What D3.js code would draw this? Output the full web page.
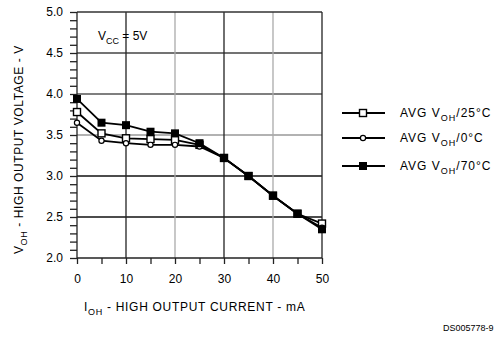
<!DOCTYPE html>
<html><head><meta charset="utf-8">
<script src="https://cdn.jsdelivr.net/npm/d3@7"></script>
<style>
body{margin:0;background:#fff;}
svg text{font-family:"Liberation Sans",Arial,sans-serif;fill:#000;}
</style></head>
<body>
<svg id="c" width="499" height="338"></svg>
<script>
const currents = [0,5,10,15,20,25,30,35,40,45,50];
const v25 = [3.78,3.52,3.46,3.45,3.44,3.38,3.22,3.00,2.76,2.54,2.42];
const v0  = [3.65,3.43,3.40,3.38,3.38,3.36,3.22,3.00,2.76,2.54,2.37];
const v70 = [3.94,3.65,3.62,3.54,3.52,3.40,3.22,3.00,2.76,2.54,2.35];
const xTicks = [0,10,20,30,40,50];
const yTicks = [2.0,2.5,3.0,3.5,4.0,4.5,5.0];
const seriesNames = ["AVG V|OH|/25°C","AVG V|OH|/0°C","AVG V|OH|/70°C"];

const svg = d3.select("#c");
const x = d3.scaleLinear().domain([0,50]).range([77,322]);
const y = d3.scaleLinear().domain([2,5]).range([258,12]);

// grid
const hColors = {2.5:"#111",3.0:"#111",3.5:"#999",4.0:"#555",4.5:"#444"};
[2.5,3.0,3.5,4.0,4.5].forEach(v=>{
  svg.append("line").attr("x1",x(0)).attr("x2",x(50)).attr("y1",y(v)).attr("y2",y(v))
    .attr("stroke",hColors[v]).attr("stroke-width",1.3);
});
const vColors = {10:"#222",20:"#aaa",30:"#222",40:"#aaa"};
[10,20,30,40].forEach(v=>{
  svg.append("line").attr("x1",x(v)).attr("x2",x(v)).attr("y1",y(2)).attr("y2",y(5))
    .attr("stroke",vColors[v]).attr("stroke-width",1.3);
});
// frame top/right
svg.append("line").attr("x1",x(0)).attr("x2",x(50)).attr("y1",y(5)).attr("y2",y(5)).attr("stroke","#333").attr("stroke-width",1.3);
svg.append("line").attr("x1",x(50)).attr("x2",x(50)).attr("y1",y(2)).attr("y2",y(5)).attr("stroke","#222").attr("stroke-width",1.3);

// y axis
const yAxis = d3.axisLeft(y).tickValues(d3.range(20,51).map(d=>d/10)).tickSize(7)
  .tickFormat(d=> yTicks.some(t=>Math.abs(t-d)<1e-6) ? d3.format(".1f")(d) : "");
const gy = svg.append("g").attr("transform",`translate(${x(0)},0)`).call(yAxis);
gy.selectAll("path,line").attr("stroke","#222").attr("stroke-width",1.3);
gy.select(".domain").attr("d",`M0,${y(2)}V${y(5)}`);
gy.selectAll("text").attr("font-size",12).attr("x",-14).attr("font-family","Liberation Sans, Arial, sans-serif");

// x axis
const xAxis = d3.axisBottom(x).tickValues(d3.range(0,51,5)).tickSize(6)
  .tickFormat(d=> xTicks.includes(d) ? d : "");
const gx = svg.append("g").attr("transform",`translate(0,${y(2)})`).call(xAxis);
gx.selectAll("path,line").attr("stroke","#222").attr("stroke-width",1.3);
gx.select(".domain").attr("d",`M${x(0)},0H${x(50)}`);
gx.selectAll("text").attr("font-size",12).attr("y",16).attr("font-family","Liberation Sans, Arial, sans-serif");

// lines
const line = d3.line().x((d,i)=>x(currents[i])).y(d=>y(d));
const data = [v25,v0,v70];
data.forEach(s=>{
  svg.append("path").attr("d",line(s)).attr("fill","none").attr("stroke","#000").attr("stroke-width",1.8);
});
function marker(g,type,cx,cy){
  if(type===0) g.append("rect").attr("x",cx-3.5).attr("y",cy-3.5).attr("width",7).attr("height",7).attr("fill","#fff").attr("stroke","#000").attr("stroke-width",1.4);
  else if(type===1) g.append("circle").attr("cx",cx).attr("cy",cy).attr("r",2.6).attr("fill","#fff").attr("stroke","#000").attr("stroke-width",1.2);
  else g.append("rect").attr("x",cx-4).attr("y",cy-4).attr("width",8).attr("height",8).attr("fill","#000");
}
data.forEach((s,k)=>{
  const g = svg.append("g");
  s.forEach((v,i)=>marker(g,k,x(currents[i]),y(v)));
});

// legend
const legY = [113,138,166];
seriesNames.forEach((n,k)=>{
  svg.append("line").attr("x1",342).attr("x2",385).attr("y1",legY[k]).attr("y2",legY[k]).attr("stroke","#000").attr("stroke-width",1.8);
  marker(svg,k,363,legY[k]);
  const parts = n.split("|");
  const t = svg.append("text").attr("x",400).attr("y",legY[k]+4).attr("font-size",12).attr("letter-spacing",1);
  t.append("tspan").text(parts[0]);
  t.append("tspan").attr("font-size",9).attr("dy",4).text(parts[1]);
  t.append("tspan").attr("dy",-4).text(parts[2]);
});

// Vcc label
const vt = svg.append("text").attr("x",98).attr("y",40).attr("font-size",12);
vt.append("tspan").text("V");
vt.append("tspan").attr("font-size",9).attr("dy",4).text("CC");
vt.append("tspan").attr("dy",-4).text(" = 5V");

// x title
const xt = svg.append("text").attr("x",84).attr("y",311).attr("font-size",12).attr("letter-spacing",0.7);
xt.append("tspan").text("I");
xt.append("tspan").attr("font-size",9).attr("dy",4).text("OH");
xt.append("tspan").attr("dy",-4).text("  -  HIGH OUTPUT CURRENT  -  mA");

// y title
const yt = svg.append("text").attr("transform","translate(23,254) rotate(-90)").attr("font-size",12).attr("letter-spacing",0.6);
yt.append("tspan").text("V");
yt.append("tspan").attr("font-size",9).attr("dy",4).text("OH");
yt.append("tspan").attr("dy",-4).text("  -  HIGH OUTPUT VOLTAGE  -  V");

svg.append("text").attr("x",443).attr("y",331).attr("font-size",9).text("DS005778-9");
</script>
</body></html>
